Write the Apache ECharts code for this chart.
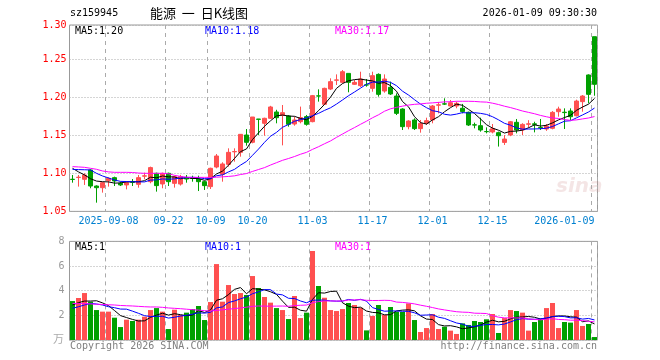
<!DOCTYPE html>
<html><head><meta charset="utf-8">
<script src="https://cdn.jsdelivr.net/npm/echarts@6/dist/echarts.min.js"></script>
<style>html,body{margin:0;padding:0;background:#fff}#c{width:660px;height:360px}</style>
</head><body><div id="c"></div>
<script>
// ---------- data ----------
const dates = [
'2025-08-29',
'2025-09-01','2025-09-02','2025-09-03','2025-09-04','2025-09-05',
'2025-09-08','2025-09-09','2025-09-10','2025-09-11','2025-09-12',
'2025-09-15','2025-09-16','2025-09-17','2025-09-18','2025-09-19',
'2025-09-22','2025-09-23','2025-09-24','2025-09-25','2025-09-26',
'2025-09-29','2025-09-30',
'2025-10-09','2025-10-10',
'2025-10-13','2025-10-14','2025-10-15','2025-10-16','2025-10-17',
'2025-10-20','2025-10-21','2025-10-22','2025-10-23','2025-10-24',
'2025-10-27','2025-10-28','2025-10-29','2025-10-30','2025-10-31',
'2025-11-03','2025-11-04','2025-11-05','2025-11-06','2025-11-07',
'2025-11-10','2025-11-11','2025-11-12','2025-11-13','2025-11-14',
'2025-11-17','2025-11-18','2025-11-19','2025-11-20','2025-11-21',
'2025-11-24','2025-11-25','2025-11-26','2025-11-27','2025-11-28',
'2025-12-01','2025-12-02','2025-12-03','2025-12-04','2025-12-05',
'2025-12-08','2025-12-09','2025-12-10','2025-12-11','2025-12-12',
'2025-12-15','2025-12-16','2025-12-17','2025-12-18','2025-12-19',
'2025-12-22','2025-12-23','2025-12-24','2025-12-25','2025-12-26',
'2025-12-29','2025-12-30','2025-12-31',
'2026-01-05','2026-01-06','2026-01-07','2026-01-08','2026-01-09'];

const opens = [
1.0923,1.0946,1.0922,1.1045,1.0834,1.0812,1.0904,1.0944,1.0869,1.0848,
1.0891,1.0856,1.0964,1.0891,1.1001,1.0861,1.1001,1.0869,1.0860,1.0948,
1.0937,1.0926,1.0891,1.0826,1.1084,1.0988,1.1119,1.1284,1.1277,1.1505,
1.1409,1.1715,1.1659,1.1725,1.1808,1.1764,1.1755,1.1650,1.1681,1.1747,
1.1681,1.2020,1.1909,1.2110,1.2226,1.2198,1.2316,1.2172,1.2154,1.2165,
1.2119,1.2303,1.2084,1.2133,1.2018,1.1847,1.1615,1.1703,1.1589,1.1659,
1.1703,1.1898,1.1915,1.1887,1.1887,1.1857,1.1804,1.1639,1.1628,1.1551,
1.1545,1.1536,1.1408,1.1505,1.1672,1.1571,1.1647,1.1652,1.1605,1.1584,
1.1593,1.1812,1.1805,1.1821,1.1759,1.1944,1.2295,1.2799];
const closes = [
1.0920,1.0950,1.0979,1.0834,1.0812,1.0878,1.0935,1.0900,1.0848,1.0878,
1.0882,1.0944,1.0968,1.1076,1.0839,1.1001,1.0891,1.0957,1.0957,1.0926,
1.0933,1.0891,1.0839,1.1067,1.1229,1.1124,1.1277,1.1288,1.1514,1.1409,
1.1742,1.1711,1.1725,1.1874,1.1733,1.1799,1.1646,1.1703,1.1734,1.1646,
1.2023,1.2018,1.2119,1.2207,1.2230,1.2338,1.2198,1.2198,1.2242,1.2163,
1.2286,1.2040,1.2242,1.2045,1.1790,1.1615,1.1689,1.1589,1.1659,1.1694,
1.1887,1.1902,1.1912,1.1930,1.1922,1.1813,1.1637,1.1636,1.1571,1.1549,
1.1587,1.1496,1.1452,1.1680,1.1571,1.1645,1.1652,1.1645,1.1600,1.1624,
1.1803,1.1847,1.1800,1.1746,1.1952,1.2018,1.2040,1.2172];
const lows = [
1.0878,1.0826,1.0848,1.0804,1.0615,1.0747,1.0826,1.0834,1.0834,1.0790,
1.0834,1.0812,1.0922,1.0870,1.0760,1.0804,1.0834,1.0813,1.0840,1.0878,
1.0891,1.0768,1.0782,1.0795,1.1067,1.0891,1.1089,1.1154,1.1220,1.1365,
1.1396,1.1505,1.1496,1.1716,1.1659,1.1369,1.1615,1.1628,1.1659,1.1628,
1.1672,1.1944,1.1900,1.2097,1.2163,1.2185,1.2067,1.2163,1.2137,1.2141,
1.2075,1.2010,1.2062,1.2032,1.1768,1.1571,1.1580,1.1571,1.1536,1.1637,
1.1659,1.1790,1.1900,1.1880,1.1857,1.1790,1.1624,1.1593,1.1549,1.1527,
1.1527,1.1353,1.1374,1.1490,1.1527,1.1505,1.1600,1.1540,1.1571,1.1560,
1.1580,1.1746,1.1584,1.1703,1.1750,1.1812,1.1922,1.2022];
const highs = [
1.0979,1.0979,1.1001,1.1054,1.0843,1.0887,1.0949,1.0957,1.0891,1.0891,
1.0926,1.0979,1.1010,1.1089,1.1010,1.1010,1.1010,1.0970,1.0980,1.0979,
1.0970,1.0970,1.0900,1.1075,1.1255,1.1146,1.1330,1.1330,1.1518,1.1584,
1.1742,1.1716,1.1733,1.1889,1.1837,1.1900,1.1768,1.1747,1.1879,1.1769,
1.2032,1.2106,1.2128,1.2251,1.2303,1.2360,1.2316,1.2229,1.2338,1.2242,
1.2338,1.2316,1.2303,1.2207,1.2053,1.1857,1.1700,1.1725,1.1703,1.1733,
1.1900,1.1940,1.1988,1.1966,1.1944,1.1914,1.1813,1.1668,1.1733,1.1606,
1.1650,1.1550,1.1505,1.1690,1.1716,1.1660,1.1700,1.1680,1.1716,1.1650,
1.1820,1.1878,1.1856,1.1856,1.1970,1.2031,1.2303,1.2799];
// volume, 万
const volumes = [
3.16,3.41,3.81,3.11,2.43,2.30,2.30,1.81,1.05,1.65,
1.54,1.65,1.89,2.43,2.59,2.30,0.89,2.46,2.03,2.22,
2.51,2.76,1.62,3.08,6.16,3.11,4.46,3.73,3.81,3.65,
5.19,4.22,3.49,3.03,2.59,2.43,1.70,3.57,1.78,2.22,
7.22,4.38,3.43,2.43,2.35,2.51,3.00,2.84,2.62,0.78,
1.95,2.84,2.03,2.68,2.30,2.27,2.97,1.62,0.65,0.97,
2.11,0.89,1.08,0.76,0.49,1.35,1.22,1.54,1.46,1.68,
2.11,0.57,1.78,2.43,2.35,2.22,0.76,1.46,1.73,2.59,
3.00,0.97,1.46,1.41,2.43,1.14,1.30,0.24];
// moving-average values before a full window exists
const ma5Head = [1.1067,1.1020,1.0980,1.0930];
const ma10Head = [1.1053,1.1050,1.1048,1.1045,1.1001,1.0966,1.0940,1.0913,1.0895];
const ma30Head = [1.1089,1.1085,1.1080,1.1067,1.1054,1.1032,1.1020,1.1014,1.1014,1.1014,
1.1012,1.1005,1.1001,1.1001,1.1001,1.1001,1.0995,1.0975,1.0960,1.0950,
1.0948,1.0948,1.0948,1.0948,1.0950,1.0955,1.0960,1.0968,1.0985];
const vma5Head = [2.84,3.03,3.16,3.16];
const vma10Head = [2.57,2.70,2.84,2.97,2.92,2.84,2.70,2.62,2.51];
const vma30Head = [2.97,2.95,2.95,2.93,2.90,2.88,2.86,2.84,2.80,2.78,
2.76,2.73,2.70,2.68,2.68,2.65,2.60,2.57,2.54,2.50,
2.46,2.43,2.38,2.35,2.40,2.45,2.50,2.55,2.60];

const tickDates = ['2025-09-08','2025-09-22','2025-10-09','2025-10-20','2025-11-03','2025-11-17','2025-12-01','2025-12-15','2026-01-09'];
const tickLabels = ['2025-09-08','09-22','10-09','10-20','11-03','11-17','12-01','12-15','2026-01-09'];
const priceTicks = [1.05,1.10,1.15,1.20,1.25,1.30];
const volTicks = [2,4,6,8];
const maLegend = ['MA5:1.20','MA10:1.18','MA30:1.17'];
const volLegend = ['MA5:1','MA10:1','MA30:1'];
const header = {code:'sz159945', title:'能源  一  日K线图', time:'2026-01-09 09:30:30'};
const volUnit = '万';

// ---------- helpers ----------
function ma(arr, n, head){
  return arr.map((_, i) => {
    if (i < n - 1) return head[i];
    let s = 0; for (let k = i - n + 1; k <= i; k++) s += arr[k];
    return +(s / n).toFixed(4);
  });
}
const RED = '#ff5050', GREEN = '#00a000';
const MONO = '"DejaVu Sans Mono", "Liberation Mono", monospace';
const tickIdx = new Set(tickDates.map(d => dates.indexOf(d)));
const labelMap = {}; tickDates.forEach((d, k) => labelMap[d] = tickLabels[k]);

const L = 69.5, W = 528;
const T0 = 25, H0 = 186.4;
const PMIN = 1.05, PPX = 760; // pixels per price unit
const PMAX = PMIN + H0 / PPX;
const T1 = 241.4, H1 = 98.6;

const kData = opens.map((o, i) => [o, closes[i], lows[i], highs[i]]);
const volData = volumes.map((v, i) => ({value: v, itemStyle: {color: closes[i] >= opens[i] ? RED : GREEN}}));

const dashV = {show: true, interval: (i) => tickIdx.has(i), lineStyle: {color: '#aaa', type: [4, 4], width: 1}};
const dotH = {show: true, lineStyle: {color: '#aaa', type: [1, 2], width: 1}};

function lineS(name, data, color, xi, yi){
  return {name, type: 'line', xAxisIndex: xi, yAxisIndex: yi, data, symbol: 'none', smooth: false,
    lineStyle: {color, width: 1}, itemStyle: {color}, z: 5, silent: true};
}
function txt(x, y, text, fill, font, align){
  return {type: 'text', x, y, silent: true, style: {text, fill, font, align: align || 'left', verticalAlign: 'middle'}};
}

const chart = echarts.init(document.getElementById('c'), null, {renderer: 'canvas'});
chart.setOption({
  animation: false,
  backgroundColor: '#fff',
  grid: [
    {left: L, width: W, top: T0, height: H0, show: true, borderColor: '#999', borderWidth: 1, backgroundColor: 'rgba(0,0,0,0)'},
    {left: L, width: W, top: T1, height: H1, show: true, borderColor: '#999', borderWidth: 1, backgroundColor: 'rgba(0,0,0,0)'}
  ],
  xAxis: [
    {type: 'category', gridIndex: 0, data: dates, boundaryGap: true,
     axisLine: {show: false}, axisTick: {show: false},
     axisLabel: {interval: (i) => tickIdx.has(i), formatter: (v) => labelMap[v] || '', color: '#0080d0',
       fontFamily: MONO, fontSize: 10, margin: 5, alignMaxLabel: 'right', showMaxLabel: true, showMinLabel: true},
     splitLine: dashV},
    {type: 'category', gridIndex: 1, data: dates, boundaryGap: true,
     axisLine: {show: false}, axisTick: {show: false}, axisLabel: {show: false},
     splitLine: dashV}
  ],
  yAxis: [
    {type: 'value', gridIndex: 0, min: PMIN, max: PMAX, interval: 0.05, scale: true,
     axisLine: {show: false}, axisTick: {show: false},
     axisLabel: {color: '#ff0000', fontFamily: MONO, fontSize: 10, margin: 3,
       formatter: (v) => priceTicks.find(t => Math.abs(t - v) < 0.006).toFixed(2)},
     splitLine: dotH},
    {type: 'value', gridIndex: 1, min: 0, max: 8, interval: 2,
     axisLine: {show: false}, axisTick: {show: false},
     axisLabel: {color: '#999', fontFamily: MONO, fontSize: 10, margin: 5,
       formatter: (v) => volTicks.includes(v) ? String(v) : ''},
     splitLine: dotH}
  ],
  series: [
    {name: 'K', type: 'candlestick', xAxisIndex: 0, yAxisIndex: 0, data: kData, barWidth: 5,
     itemStyle: {color: RED, color0: GREEN, borderColor: RED, borderColor0: GREEN, borderWidth: 1}, z: 3, silent: true},
    lineS('MA5', ma(closes, 5, ma5Head), '#000000', 0, 0),
    lineS('MA10', ma(closes, 10, ma10Head), '#0000ff', 0, 0),
    lineS('MA30', ma(closes, 30, ma30Head), '#ff00ff', 0, 0),
    {name: 'VOL', type: 'bar', xAxisIndex: 1, yAxisIndex: 1, data: volData, barWidth: 5, z: 3, silent: true},
    lineS('VMA5', ma(volumes, 5, vma5Head), '#000000', 1, 1),
    lineS('VMA10', ma(volumes, 10, vma10Head), '#0000ff', 1, 1),
    lineS('VMA30', ma(volumes, 30, vma30Head), '#ff00ff', 1, 1)
  ],
  graphic: [
    txt(70, 13, header.code, '#000', '10px ' + MONO),
    txt(150, 13, header.title, '#000', '13px "Noto Sans CJK SC"'),
    txt(597, 13, header.time, '#000', '10px ' + MONO, 'right'),
    txt(75, 31, maLegend[0], '#000', '10px ' + MONO),
    txt(205, 31, maLegend[1], '#0000ff', '10px ' + MONO),
    txt(335, 31, maLegend[2], '#ff00ff', '10px ' + MONO),
    txt(75, 247, volLegend[0], '#000', '10px ' + MONO),
    txt(205, 247, volLegend[1], '#0000ff', '10px ' + MONO),
    txt(335, 247, volLegend[2], '#ff00ff', '10px ' + MONO),
    txt(64, 339, volUnit, '#aaa', '11px "Noto Sans CJK SC"', 'right'),
    txt(70, 346, 'Copyright 2026 SINA.COM', '#808080', '10px ' + MONO),
    txt(597, 346, 'http://finance.sina.com.cn', '#808080', '10px ' + MONO, 'right'),
    txt(556, 187, 'sina', 'rgba(215,160,160,0.28)', 'italic bold 20px "DejaVu Sans"')
  ]
});
</script></body></html>
